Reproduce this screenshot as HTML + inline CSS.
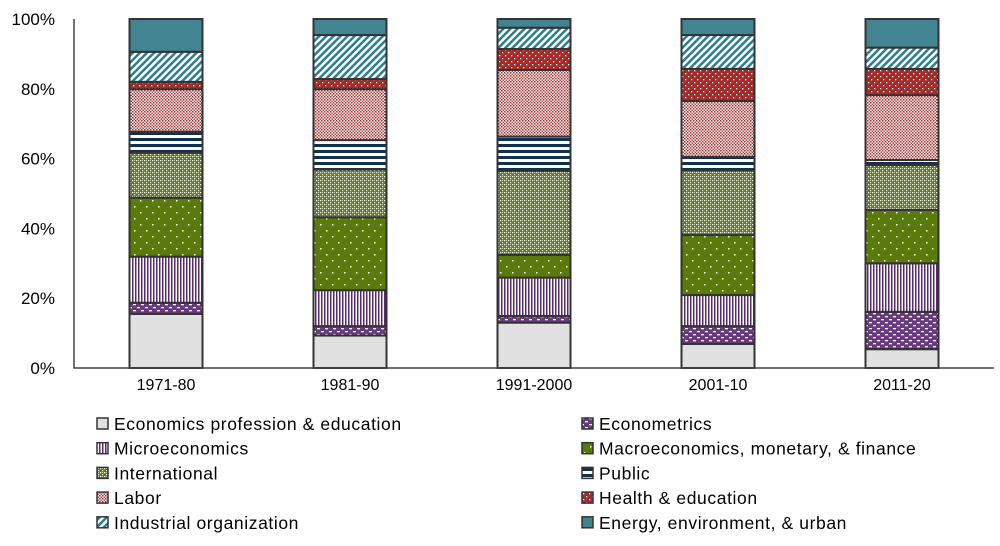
<!DOCTYPE html>
<html><head><meta charset="utf-8"><style>
body{margin:0;background:#fff;}
svg text{font-family:"Liberation Sans",sans-serif;fill:#000;}
</style></head><body>
<svg id="chart" width="1000" height="541" viewBox="0 0 1000 541" xmlns="http://www.w3.org/2000/svg">
<defs>
<pattern id="p0" width="4" height="4" patternUnits="userSpaceOnUse"><rect width="4" height="4" fill="#e0e0e0"/></pattern>
<pattern id="p1" width="8" height="6" patternUnits="userSpaceOnUse"><rect width="8" height="6" fill="#6a3a80"/><rect x="1" y="1" width="3" height="1.3" fill="#fff"/><rect x="5" y="4" width="3" height="1.3" fill="#fff"/></pattern>
<pattern id="p2" width="3" height="4" patternUnits="userSpaceOnUse"><rect width="3" height="4" fill="#fff"/><rect width="1.5" height="4" fill="#5a2a70"/></pattern>
<pattern id="p3" width="12" height="12" patternUnits="userSpaceOnUse"><rect width="12" height="12" fill="#5a7a0a"/><rect x="2" y="2" width="1.5" height="1.5" fill="#fff"/><rect x="8" y="8" width="1.5" height="1.5" fill="#fff"/></pattern>
<pattern id="p4" width="4" height="4" patternUnits="userSpaceOnUse"><rect width="4" height="4" fill="#5e7e14"/><rect x="0" y="0" width="1.2" height="1.2" fill="#fff"/><rect x="2" y="2" width="1.2" height="1.2" fill="#fff"/><rect x="2" y="0" width="1" height="1" fill="#c8d8a0"/></pattern>
<pattern id="p5" width="4" height="6" patternUnits="userSpaceOnUse"><rect width="4" height="6" fill="#fff"/><rect width="4" height="3" fill="#10304f"/></pattern>
<pattern id="p6" width="3" height="3" patternUnits="userSpaceOnUse"><rect width="3" height="3" fill="#fff"/><rect width="1.5" height="1.5" fill="#a52a2a"/><rect x="1.5" y="1.5" width="1.5" height="1.5" fill="#c04040"/></pattern>
<pattern id="p7" width="6" height="6" patternUnits="userSpaceOnUse"><rect width="6" height="6" fill="#a52a2a"/><rect x="1" y="1" width="1.3" height="1.3" fill="#fff"/><rect x="4" y="4" width="1.3" height="1.3" fill="#fff"/></pattern>
<pattern id="p8" width="5" height="5" patternUnits="userSpaceOnUse" patternTransform="rotate(45)"><rect width="5" height="5" fill="#fff"/><rect width="2.5" height="5" fill="#2a7f8f"/></pattern>
<pattern id="p9" width="4" height="4" patternUnits="userSpaceOnUse"><rect width="4" height="4" fill="#428491"/></pattern>
</defs>
<g id="axes"></g><g id="bars"></g><g id="legend"></g>
</svg>
<script>
const categories = ["1971-80","1981-90","1991-2000","2001-10","2011-20"];
const seriesNames = ["Economics profession & education","Econometrics","Microeconomics","Macroeconomics, monetary, & finance","International","Public","Labor","Health & education","Industrial organization","Energy, environment, & urban"];
const econProf = [15.5, 9.3, 13.0, 6.9, 5.4];
const econometrics = [3.2, 2.7, 1.9, 5.1, 10.7];
const micro = [13.2, 10.3, 11.0, 8.9, 13.9];
const macro = [16.9, 20.9, 6.5, 17.2, 15.3];
const international = [12.9, 13.7, 24.1, 18.6, 12.9];
const publicEc = [6.0, 8.4, 9.8, 3.8, 1.4];
const labor = [12.2, 14.6, 19.1, 16.0, 18.6];
const health = [2.1, 2.9, 6.0, 9.2, 7.5];
const industrial = [8.6, 12.6, 6.1, 9.7, 6.1];
const energy = [9.4, 4.6, 2.5, 4.6, 8.2];
const yTicks = [0,20,40,60,80,100];

const series = [econProf,econometrics,micro,macro,international,publicEc,labor,health,industrial,energy];
const NS="http://www.w3.org/2000/svg";
const x0=74, x1=994, yTop=19, yBot=368;
const band=(x1-x0)/categories.length, barW=73;
const y = v => yBot - v/100*(yBot-yTop);
const xc = i => x0 + band*(i+0.5);
function mk(t,a,p){const e=document.createElementNS(NS,t);for(const k in a)e.setAttribute(k,a[k]);p.appendChild(e);return e;}
const axes=document.getElementById('axes'), bars=document.getElementById('bars'), legend=document.getElementById('legend');
yTicks.forEach(t=>{
  const tx=mk('text',{x:55,y:y(t)+6,'text-anchor':'end','font-size':17},axes);
  tx.textContent=t+'%';
  
  
});
categories.forEach((c,i)=>{
  let acc=0;
  series.forEach((s,k)=>{
    const v=s[i];
    const r=mk('rect',{x:xc(i)-barW/2,y:y(acc+v),width:barW,height:y(acc)-y(acc+v),fill:'url(#p'+k+')',stroke:'#333','stroke-width':2},bars);
    
    
    acc+=v;
  });
  const tx=mk('text',{x:xc(i),y:390,'text-anchor':'middle','font-size':16},axes);
  tx.textContent=c;
  
  
});
const ax=mk('path',{d:`M${x0} ${yTop}V${yBot}H${x1}`,fill:'none',stroke:'#444','stroke-width':1.5},bars);


seriesNames.forEach((n,k)=>{
  const col=k%2, row=Math.floor(k/2);
  const lx=col?582:97, ly=418+row*24.7;
  const g=mk('g',{},legend);
  
  
  mk('rect',{x:lx,y:ly,width:11,height:11,fill:'url(#p'+k+')',stroke:'#333','stroke-width':1.5},g);
  const tx=mk('text',{x:lx+17,y:ly+12,'font-size':17.5,'letter-spacing':0.6},g);
  tx.textContent=n;
});
</script>
</body></html>
